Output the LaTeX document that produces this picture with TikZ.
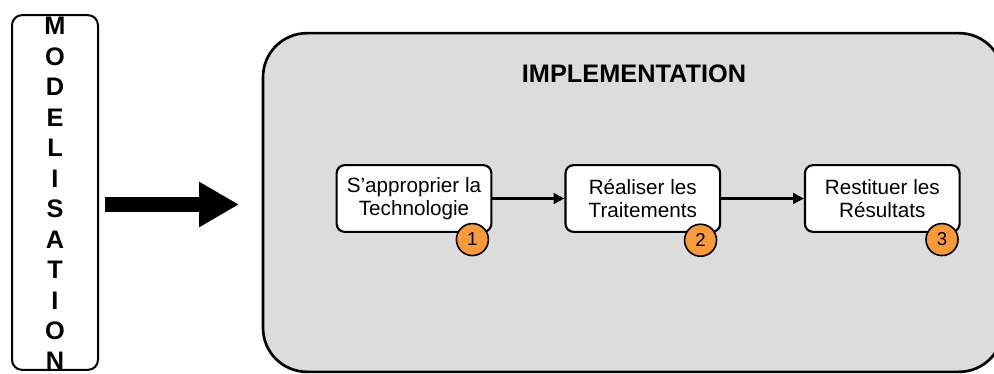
\documentclass[tikz,border=0pt]{standalone}
\usepackage{fontspec}
\setmainfont{Liberation Sans}
\usetikzlibrary{arrows.meta, positioning}
\definecolor{FondGris}{rgb}{0.863, 0.863, 0.863}
\definecolor{PastilleOrange}{rgb}{0.969, 0.604, 0.243}

\begin{document}
\begin{tikzpicture}[
    x=0.75pt, y=-0.75pt,
    lettre/.style={font=\bfseries\fontsize{19}{19}\selectfont, anchor=base, inner sep=0pt},
    cadre/.style={draw=black, line width=1.5pt, rounded corners=7.5pt,
        minimum width=64.5pt, minimum height=266pt, inner sep=0pt},
    bloc/.style={draw=black, line width=2pt, rounded corners=33pt, fill=FondGris,
        minimum width=555pt, minimum height=254pt, inner sep=0pt},
    etape/.style={draw=black, line width=1.6pt, rounded corners=6pt, fill=white,
        minimum width=116pt, minimum height=50pt, inner sep=0pt,
        align=center, font=\fontsize{15.5}{17.2}\selectfont},
    pastille/.style={circle, draw=black, line width=1.2pt, fill=PastilleOrange,
        minimum size=24pt, inner sep=0pt, font=\fontsize{14}{14}\selectfont},
    lien/.style={-{Triangle[length=8pt, width=8pt]}, line width=1.6pt},
    fleche/.style={-{Triangle[length=30pt, width=32pt]}, line width=11.25pt,
        shorten <=4.5pt, shorten >=17pt},
]
\clip (0,0) rectangle (994,374);

% modelisation
\node[cadre] (modele) at (55,192.5) {};
\foreach \lettre [count=\i] in {M,O,D,E,L,I,S,A,T,I,O,N}
    \node[lettre] (m\i) at (55,{35+30.45*(\i-1)}) {\lettre};

% bloc implementation
\node[bloc] (impl) at (633,202.5) {};
\node[font=\bfseries\fontsize{19}{19}\selectfont] (titre) at (634,74) {IMPLEMENTATION};

% etapes
\node[etape] (approprier) at (414,198.5) {S'approprier la\\Technologie};
\node[etape, right=54pt of approprier] (realiser) {Réaliser les\\Traitements};
\node[etape, right=62pt of realiser] (restituer) {Restituer les\\Résultats};

% pastilles
\node[pastille, xshift=-15pt, yshift=-5pt] (p1) at (approprier.south east) {1};
\node[pastille, xshift=-15.5pt, yshift=-5.5pt] (p2) at (realiser.south east) {2};
\node[pastille, xshift=-14pt, yshift=-5pt] (p3) at (restituer.south east) {3};

% liens
\draw[lien] (approprier) -- (realiser);
\draw[lien] (realiser) -- (restituer);
\draw[fleche] ([yshift=-1.5pt]modele.east |- impl.west) -- ([yshift=-1.5pt]impl.west);

\end{tikzpicture}
\end{document}
